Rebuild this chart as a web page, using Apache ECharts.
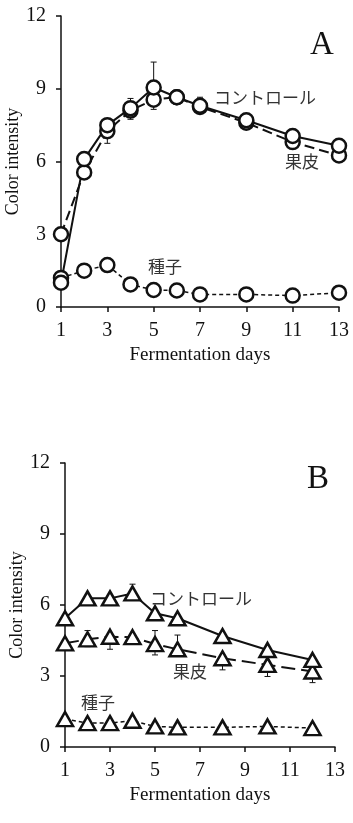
<!DOCTYPE html>
<html>
<head>
<meta charset="utf-8">
<title>Color intensity</title>
<style>
  * { margin: 0; padding: 0 }
  html, body { width: 100%; height: 100%; background: #fff; }
  #chart { width: 353px; height: 823px; }
</style>
</head>
<body>
<div id="chart"></div>
<script src="https://cdn.jsdelivr.net/npm/echarts@6/dist/echarts.min.js"></script>
<script>
// panel A
const daysA = [1, 2, 3, 4, 5, 6, 7, 9, 11, 13];
const controlA = [1.0, 6.1, 7.5, 8.2, 9.05, 8.65, 8.3, 7.7, 7.05, 6.65];
const peelA = [3.0, 5.55, 7.25, 8.1, 8.55, 8.65, 8.25, 7.6, 6.8, 6.25];
const seedA = [1.2, 1.5, 1.73, 0.93, 0.7, 0.68, 0.52, 0.52, 0.47, 0.59];
// [day, value, end of bar]
const errA = [[5, 9.05, 10.1], [5, 8.55, 8.15], [4, 8.2, 8.6], [4, 8.1, 7.74], [3, 7.25, 6.75], [7, 8.3, 8.65]];

// panel B
const daysB = [1, 2, 3, 4, 5, 6, 8, 10, 12];
const controlB = [5.44, 6.28, 6.28, 6.49, 5.65, 5.44, 4.69, 4.10, 3.68];
const peelB = [4.38, 4.55, 4.66, 4.64, 4.35, 4.13, 3.75, 3.47, 3.19];
const seedB = [1.18, 1.01, 1.01, 1.11, 0.87, 0.83, 0.83, 0.87, 0.80];
const errB = [[4, 6.49, 6.88], [4, 6.49, 6.26], [2, 4.55, 4.92], [2, 4.55, 4.24], [3, 4.66, 4.13], [5, 4.35, 3.89],
              [5, 4.35, 4.92], [6, 4.13, 4.73], [8, 3.75, 3.26], [10, 3.47, 2.98], [12, 3.19, 2.72]];

const xTicks = [1, 3, 5, 7, 9, 11, 13];
const yTicks = [0, 3, 6, 9, 12];

const serif = '"Liberation Serif", "DejaVu Serif", serif';
const jp = '"Noto Sans CJK JP", sans-serif';

const pairs = (xs, ys) => xs.map((d, i) => [d, ys[i]]);

const xAxisBase = gi => ({
  type: 'value', gridIndex: gi, min: xTicks[0], max: xTicks[xTicks.length - 1], interval: 2,
  name: 'Fermentation days', nameLocation: 'middle', nameGap: 39, nameMoveOverlap: false,
  nameTextStyle: { fontFamily: serif, fontSize: 19, color: '#111' },
  axisLine: { lineStyle: { color: '#111', width: 1.5 } },
  axisTick: { length: 5, lineStyle: { color: '#111', width: 1.5 } },
  axisLabel: { fontFamily: serif, fontSize: 20, color: '#111', margin: 14 },
  splitLine: { show: false }
});
const yAxisBase = gi => ({
  type: 'value', gridIndex: gi, min: yTicks[0], max: yTicks[yTicks.length - 1], interval: 3,
  name: 'Color intensity', nameLocation: 'middle', nameGap: 39, nameMoveOverlap: false,
  nameTextStyle: { fontFamily: serif, fontSize: 18, color: '#111' },
  axisLine: { show: true, lineStyle: { color: '#111', width: 1.5 } },
  axisTick: { show: true, length: 5, lineStyle: { color: '#111', width: 1.5 } },
  axisLabel: { fontFamily: serif, fontSize: 20, color: '#111', margin: 15 },
  splitLine: { show: false }
});

const lineSeries = (gi, days, vals, symbol, size, dash, width) => ({
  type: 'line', xAxisIndex: gi, yAxisIndex: gi, data: pairs(days, vals),
  symbol: symbol, symbolSize: size, showSymbol: true, z: 3,
  lineStyle: { color: '#111', width: width, type: dash },
  itemStyle: { color: '#fff', borderColor: '#111', borderWidth: 2.5 }
});

const errSeries = (gi, errs) => ({
  type: 'custom', xAxisIndex: gi, yAxisIndex: gi, z: 1, data: errs,
  renderItem: (params, api) => {
    const a = api.coord([api.value(0), api.value(1)]);
    const b = api.coord([api.value(0), api.value(2)]);
    return {
      type: 'group',
      children: [
        { type: 'line', shape: { x1: a[0], y1: a[1], x2: b[0], y2: b[1] }, style: { stroke: '#111', lineWidth: 1 } },
        { type: 'line', shape: { x1: b[0] - 3, y1: b[1], x2: b[0] + 3, y2: b[1] }, style: { stroke: '#111', lineWidth: 1 } }
      ]
    };
  }
});

const txt = (x, y, s, size, font, color) => ({
  type: 'text', x: x, y: y,
  style: { text: s, fontSize: size, fontFamily: font, fill: color, align: 'center', verticalAlign: 'middle' }
});

const chart = echarts.init(document.getElementById('chart'));
chart.setOption({
  animation: false,
  grid: [
    { left: 61, right: 14, top: 16, height: 291, containLabel: false, outerBoundsMode: 'none' },
    { left: 65, right: 18, top: 463, height: 284, containLabel: false, outerBoundsMode: 'none' }
  ],
  xAxis: [xAxisBase(0), xAxisBase(1)],
  yAxis: [yAxisBase(0), yAxisBase(1)],
  series: [
    errSeries(0, errA),
    lineSeries(0, daysA, seedA, 'circle', 14, [4, 3], 1.5),
    lineSeries(0, daysA, peelA, 'circle', 14, [10, 5], 2),
    lineSeries(0, daysA, controlA, 'circle', 14, 'solid', 2),
    errSeries(1, errB),
    lineSeries(1, daysB, seedB, 'triangle', [16, 14], [4, 3], 1.5),
    lineSeries(1, daysB, peelB, 'triangle', [16, 14], [14, 6], 2),
    lineSeries(1, daysB, controlB, 'triangle', [16, 14], 'solid', 2)
  ],
  graphic: [
    txt(322, 45, 'A', 33, serif, '#111'),
    txt(318, 479, 'B', 33, serif, '#111'),
    txt(265, 98, 'コントロール', 17, jp, '#333'),
    txt(302, 162, '果皮', 17, jp, '#333'),
    txt(165, 267, '種子', 17, jp, '#333'),
    txt(201, 599, 'コントロール', 17, jp, '#333'),
    txt(190, 672, '果皮', 17, jp, '#333'),
    txt(98, 703, '種子', 17, jp, '#333')
  ]
});
</script>
</body>
</html>
